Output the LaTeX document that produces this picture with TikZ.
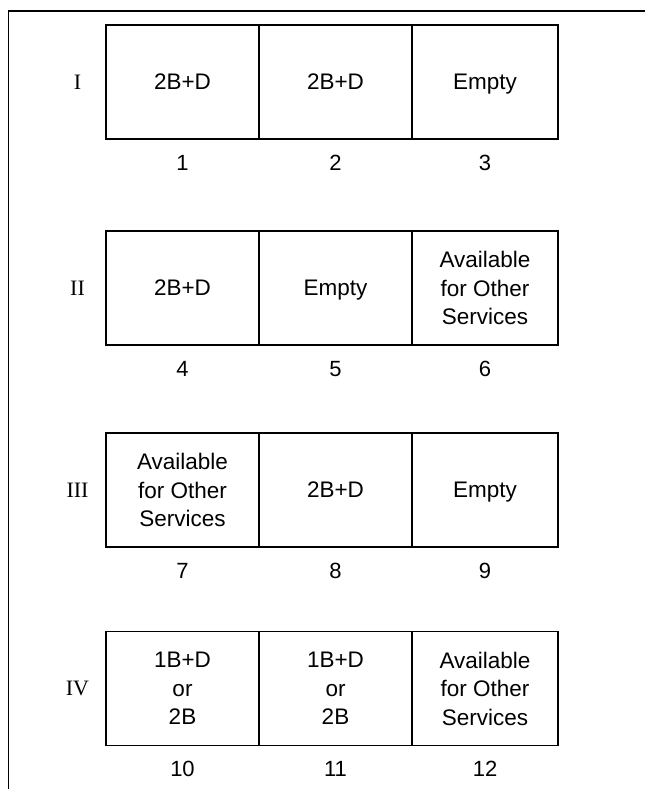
\documentclass[tikz,border=0pt]{standalone}
\usepackage{fontspec}
\setmainfont{Liberation Sans}
\newfontfamily\romanfont{Liberation Serif}
\usetikzlibrary{positioning}

\tikzset{
    cell/.style={draw, line width=1.1pt, align=center, inner sep=0pt,
                 minimum height=114pt, font=\fontsize{22.5}{28.5}\selectfont},
    slotnum/.style={font=\fontsize{22}{24}\selectfont},
    rowlabel/.style={font=\romanfont\fontsize{22}{24}\selectfont}
}
% single-line text without descender depth
\newcommand{\nodepth}[1]{\raisebox{0pt}[\height][0pt]{#1}}

\begin{document}
\begin{tikzpicture}[x=1pt, y=-1pt]
        % Page size and the open frame (top and left only)
        \useasboundingbox (0,0) rectangle (645,789);
        \draw[line width=1.1pt] (645,11) coordinate (frameR) -- (8.3,11) coordinate (frameTL) -- (8.3,789) coordinate (frameB);

        % One row per group: label, three cells and their slot numbers
        \foreach[count=\r] \y/\lab/\ca/\cb/\cc in {
            82/I/2B+D/2B+D/\nodepth{Empty},
            288/II/2B+D/\nodepth{Empty}/Available\\for Other\\Services,
            490/III/Available\\for Other\\Services/2B+D/\nodepth{Empty},
            688.5/IV/1B+D\\or\\2B/1B+D\\or\\2B/Available\\for Other\\Services}{
            \node[cell, minimum width=153pt] (c\r a) at (182.5,\y) {\ca};
            \node[cell, minimum width=153pt] (c\r b) at (335.5,\y) {\cb};
            \node[cell, minimum width=146pt] (c\r c) at (485,\y) {\cc};
            \node[rowlabel] (lab\r) at (77.5,\y) {\lab};
        }

        % Slot numbers under the cells
        \foreach \r in {1,...,4} {
            \pgfmathtruncatemacro{\na}{3*\r-2}
            \pgfmathtruncatemacro{\nb}{3*\r-1}
            \pgfmathtruncatemacro{\nc}{3*\r}
            \node[slotnum, below=12pt of c\r a.south] (n\na) {\na};
            \node[slotnum, below=12pt of c\r b.south] (n\nb) {\nb};
            \node[slotnum, below=12pt of c\r c.south] (n\nc) {\nc};
        }
\end{tikzpicture}
\end{document}
